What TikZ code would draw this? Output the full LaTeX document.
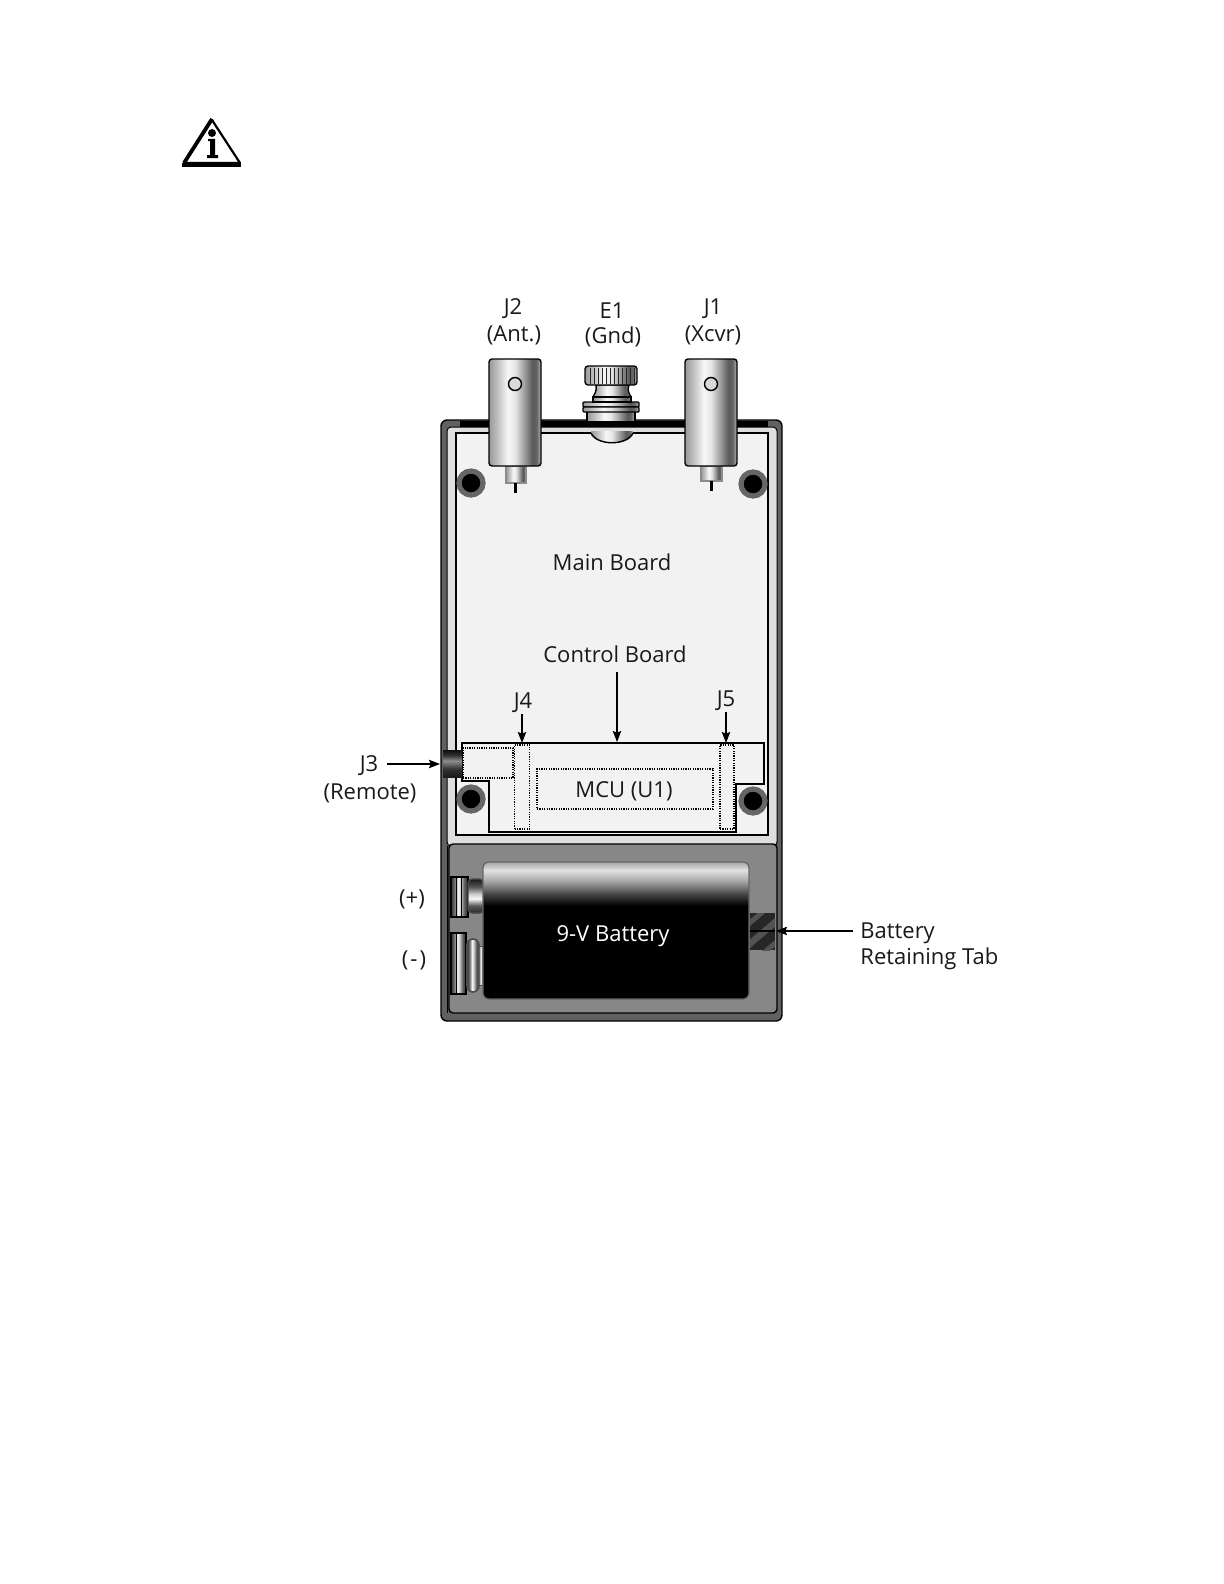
\documentclass[tikz,border=0pt]{standalone}
\usepackage{fontspec}
\setmainfont{Open Sans}
\usetikzlibrary{arrows.meta}
\pgfdeclarehorizontalshading{cyl}{100bp}{color(0bp)=(black!40);color(25bp)=(black!40);color(33bp)=(black!25);color(43bp)=(black!3);color(50bp)=(black!10);color(58bp)=(black!35);color(67bp)=(black!65);color(71bp)=(black!60);color(75bp)=(black!25);color(100bp)=(black!25)}
\pgfdeclareverticalshading{termv}{100bp}{color(0bp)=(black!85);color(25bp)=(black!85);color(36bp)=(black!65);color(46bp)=(black!3);color(53bp)=(black!20);color(63bp)=(black!65);color(75bp)=(black!90);color(100bp)=(black!90)}
\pgfdeclarehorizontalshading{termh}{100bp}{color(0bp)=(black!80);color(25bp)=(black!80);color(36bp)=(black!55);color(46bp)=(black!3);color(53bp)=(black!20);color(63bp)=(black!60);color(75bp)=(black!85);color(100bp)=(black!85)}
\pgfdeclareverticalshading{jack}{100bp}{color(0bp)=(black!90);color(25bp)=(black!90);color(40bp)=(black!80);color(55bp)=(black!45);color(65bp)=(black!80);color(75bp)=(black!95);color(100bp)=(black!95)}
\pgfdeclareverticalshading{batt}{100bp}{color(0bp)=(black);color(59bp)=(black);color(63bp)=(black!75);color(68bp)=(black!35);color(72bp)=(black!12);color(75bp)=(black!35);color(100bp)=(black!35)}
\tikzset{
  lbl/.style={inner sep=0pt,font=\fontsize{11}{13}\selectfont,text=black!90},
  ln/.style={draw=black,line width=0.7pt},
  dots/.style={draw=black,line width=0.55pt,dash pattern=on 0.6pt off 0.6pt},
  arr/.style={draw=black,line width=0.6pt,-{Stealth[length=5.5pt,width=4.2pt,inset=0.8pt]}},
  post/.style={circle,fill=black,draw=black!60,line width=2.6pt,minimum size=12pt,inner sep=0pt},
  hole/.style={circle,draw=black,line width=0.7pt,fill=black!15,minimum size=6.5pt,inner sep=0pt},
  conn/.style={ln,rounded corners=1.5pt,shading=cyl},
  stub/.style={draw=black!45,line width=0.7pt,shading=cyl},
  pin/.style={fill=black}
}
\begin{document}
\begin{tikzpicture}[x=0.5pt,y=-0.5pt]
\useasboundingbox (0,0) rectangle (1224,1584);
\fill[white] (0,0) rectangle (1224,1584);
% info icon
\draw[line width=1.1pt,line join=round,fill=white] (212,120) -- (184,163) -- (240,163) -- cycle;
\draw[line width=1.8pt] (182,165) -- (241,165);
\draw[line width=1.9pt] (212,119) -- (184,163);
\fill (212,133) circle (2pt);
\fill (208,139) -- (215,139) -- (215,155) -- (218,155) -- (218,158) -- (207,158) -- (207,155) -- (210,155) -- (210,141) -- (208,141) -- cycle;
% enclosure
\node[ln,fill=black!62,rounded corners=3pt,minimum width=170.5pt,minimum height=300.5pt,inner sep=0pt] (case) at (611.5,720.5) {};
\filldraw[draw=black,line width=0.5pt,fill=black!13,rounded corners=2pt] (447,427) rectangle (777,846);
\fill[black] (462,421) rectangle (767,427);
\draw[black,line width=0.5pt] (447,1013) -- (447,846);
\node[ln,fill=black!5,minimum width=156pt,minimum height=201pt,inner sep=0pt] (mainb) at (612,634) {};
\filldraw[draw=black,line width=0.7pt,fill=black!47,rounded corners=2pt] (449,844) -- (777,844) -- (777,1013) -- (449,1013) -- cycle;
% ground stud
\begin{scope}
\clip (591,431) -- (633,431) -- (633,435) .. controls (626,446) and (598,446) .. (591,435) -- cycle;
\shade[shading=cyl] (591,431) rectangle (633,446);
\end{scope}
\draw[line width=0.7pt] (591,433) .. controls (597,446) and (627,446) .. (633,433);
\filldraw[conn,rounded corners=0pt] (587,411) rectangle (635,422);
\fill[black] (460,421) rectangle (768,426.5);
\filldraw[conn,rounded corners=0pt] (596,385) .. controls (597,391) and (595,393) .. (593,397) -- (631,397) .. controls (629,393) and (627,391) .. (629,385) -- cycle;
\draw[conn,rounded corners=0.5pt] (583,402) rectangle (639,407);
\draw[conn,rounded corners=0.5pt] (583,407) rectangle (639,412);
\draw[conn,rounded corners=0pt] (593,397) rectangle (631,402);
\node[ln,shading=cyl,rounded corners=1.5pt,minimum width=26pt,minimum height=9.5pt,inner sep=0pt] (e1knob) at (611,375.5) {};
\foreach \x in {590,594,...,634} \draw[black!85,line width=0.4pt] (\x,368) -- (\x,384);
% jacks
\filldraw[stub] (506,466) rectangle (526,483);
\filldraw[stub] (701,466) rectangle (722,481);
\fill[pin] (514,483) rectangle (517,493);
\fill[pin] (710,481) rectangle (713,491);
\node[conn,minimum width=26pt,minimum height=53.5pt,inner sep=0pt] (j2) at (515,412.5) {};
\node[conn,minimum width=26pt,minimum height=53.5pt,inner sep=0pt] (j1) at (711,412.5) {};
\node[hole] (j2h) at (515,384) {};
\node[hole] (j1h) at (711,384) {};
% posts
\node[post] (p1) at (471,483) {};
\node[post] (p2) at (753,484) {};
\node[post] (p3) at (471,799) {};
\node[post] (p4) at (753,801) {};
% control board
\filldraw[ln,fill=black!5] (462,743) -- (764,743) -- (764,784) -- (736,784) -- (736,832) -- (489,832) -- (489,781) -- (462,781) -- cycle;
\node[dots,minimum width=25pt,minimum height=15pt,inner sep=0pt] (j3b) at (488,763) {};
\node[dots,minimum width=7.5pt,minimum height=42pt,inner sep=0pt] (j4b) at (522,787) {};
\node[dots,minimum width=7pt,minimum height=42pt,inner sep=0pt] (j5b) at (727,787) {};
\node[dots,minimum width=88pt,minimum height=20pt,inner sep=0pt] (mcu) at (625,789) {};
\shade[shading=jack] (443,750) rectangle (462,777);
\coordinate (j3c) at (443,764);
% battery terminals
\shade[shading=termh] (451,877) rectangle (468,917);
\draw[ln] (451,877) rectangle (468,917);
\draw[line width=0.4pt] (456,877) -- (456,917) (461,877) -- (461,917);
\filldraw[draw=black!70,line width=0.7pt,shading=termv,rounded corners=2pt] (468,879) rectangle (484,913);
\shade[shading=termh] (451,933) rectangle (466,994);
\draw[ln] (451,933) rectangle (466,994);
\draw[line width=0.4pt] (456,933) -- (456,994);
\filldraw[draw=black!70,line width=0.8pt,rounded corners=3pt,shading=termh] (467,939) rectangle (479,992);
\filldraw[draw=black!70,line width=0.5pt,shading=termh] (478,946) rectangle (484,985);
\node[draw=black!60,line width=0.6pt,rounded corners=3pt,shading=batt,minimum width=133pt,minimum height=68.5pt,inner sep=0pt] (batt) at (616,930.5) {};
% retaining tab
\begin{scope}
\clip (750,913) rectangle (775,950);
\fill[black!85] (750,913) rectangle (775,950);
\foreach \d in {-8,12} \draw[black!68,line width=2.5pt] (745,935+\d) -- (780,905+\d);
\foreach \d in {4,24} \draw[black!68,line width=2.5pt] (745,945+\d) -- (780,915+\d);
\draw[black,line width=0.8pt] (750,931) -- (775,931);
\end{scope}
\node[minimum width=12.5pt,minimum height=18.5pt,inner sep=0pt] (tab) at (762.5,931.5) {};
% labels
\node[lbl] (lj2) at (513,309) {J2};
\node[lbl] (lant) at (514,335) {(Ant.)};
\node[lbl] (le1) at (612,311) {E1};
\node[lbl] (lgnd) at (613,337) {(Gnd)};
\node[lbl] (lj1) at (713,309) {J1};
\node[lbl] (lxcvr) at (713,335) {(Xcvr)};
\node[lbl] (lmain) at (612,562) {Main Board};
\node[lbl] (lctrl) at (615,654.5) {Control Board};
\node[lbl] (lj4) at (523,703) {J4};
\node[lbl] (lj5) at (726,701) {J5};
\node[lbl] (lj3) at (369,766) {J3};
\node[lbl] (lrem) at (370,793) {(Remote)};
\node[lbl] (lmcu) at (624,791) {MCU (U1)};
\node[lbl] (lplus) at (412,899) {(+)};
\node[lbl] (lminus) at (414,960) {(\kern1pt-\kern1pt)};
\node[lbl,text=white] (lbatt) at (613,936) {9-V Battery};
\node[lbl,align=left,anchor=north west,font=\fontsize{11}{13.2}\selectfont] (ltab) at (860,922) {Battery\\Retaining Tab};
% arrows
\coordinate (ctrlS) at (617,672);
\coordinate (ctrlE) at (617,742);
\coordinate (j4S) at (522,714);
\coordinate (j4E) at (522,743);
\coordinate (j5S) at (726,712);
\coordinate (j5E) at (726,743);
\coordinate (j3S) at (387,764);
\coordinate (j3E) at (440,764);
\coordinate (tabS) at (853,931);
\coordinate (tabE) at (776,931);
\draw[arr] (ctrlS) -- (ctrlE);
\draw[arr] (j4S) -- (j4E);
\draw[arr] (j5S) -- (j5E);
\draw[arr] (j3S) -- (j3E);
\draw[arr] (tabS) -- (tabE);
\end{tikzpicture}
\end{document}
